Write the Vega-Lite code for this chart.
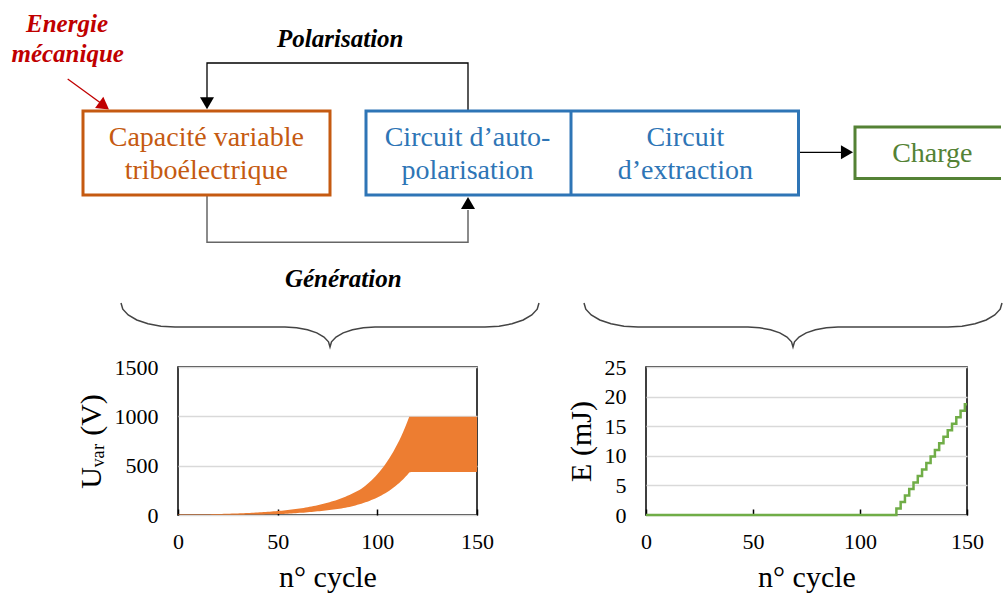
{
  "$schema": "https://vega.github.io/schema/vega-lite/v6.json",
  "padding": 0,
  "autosize": {"type": "pad"},
  "background": "white",
  "spacing": 5,
  "datasets": {
    "cyc": [
      {"n":0,"lo":0.8,"hi":4.2,"e":0},{"n":1,"lo":0.9,"hi":4.4,"e":0},{"n":2,"lo":0.9,"hi":4.6,"e":0},{"n":3,"lo":1.0,"hi":4.9,"e":0},{"n":4,"lo":1.0,"hi":5.1,"e":0},
      {"n":5,"lo":1.1,"hi":5.3,"e":0},{"n":6,"lo":1.1,"hi":5.6,"e":0},{"n":7,"lo":1.2,"hi":5.8,"e":0},{"n":8,"lo":1.2,"hi":6.1,"e":0},{"n":9,"lo":1.3,"hi":6.4,"e":0},
      {"n":10,"lo":1.3,"hi":6.7,"e":0},{"n":11,"lo":1.4,"hi":7.0,"e":0},{"n":12,"lo":1.5,"hi":7.3,"e":0},{"n":13,"lo":1.5,"hi":7.6,"e":0},{"n":14,"lo":1.6,"hi":8.0,"e":0},
      {"n":15,"lo":1.7,"hi":8.3,"e":0},{"n":16,"lo":1.7,"hi":8.7,"e":0},{"n":17,"lo":1.8,"hi":9.1,"e":0},{"n":18,"lo":1.9,"hi":9.5,"e":0},{"n":19,"lo":2.0,"hi":10.0,"e":0},
      {"n":20,"lo":2.1,"hi":10.4,"e":0},{"n":21,"lo":2.2,"hi":10.9,"e":0},{"n":22,"lo":2.3,"hi":11.4,"e":0},{"n":23,"lo":2.4,"hi":11.9,"e":0},{"n":24,"lo":2.5,"hi":12.5,"e":0},
      {"n":25,"lo":2.6,"hi":13.1,"e":0},{"n":26,"lo":2.7,"hi":13.7,"e":0},{"n":27,"lo":2.9,"hi":14.3,"e":0},{"n":28,"lo":3.0,"hi":14.9,"e":0},{"n":29,"lo":3.1,"hi":15.6,"e":0},
      {"n":30,"lo":3.3,"hi":16.4,"e":0},{"n":31,"lo":3.4,"hi":17.1,"e":0},{"n":32,"lo":3.6,"hi":17.9,"e":0},{"n":33,"lo":3.7,"hi":18.7,"e":0},{"n":34,"lo":3.9,"hi":19.6,"e":0},
      {"n":35,"lo":4.1,"hi":20.5,"e":0},{"n":36,"lo":4.3,"hi":21.4,"e":0},{"n":37,"lo":4.5,"hi":22.4,"e":0},{"n":38,"lo":4.7,"hi":23.4,"e":0},{"n":39,"lo":4.9,"hi":24.5,"e":0},
      {"n":40,"lo":5.1,"hi":25.6,"e":0},{"n":41,"lo":5.4,"hi":26.8,"e":0},{"n":42,"lo":5.8,"hi":28.1,"e":0},{"n":43,"lo":6.1,"hi":29.4,"e":0},{"n":44,"lo":6.4,"hi":30.7,"e":0},
      {"n":45,"lo":6.8,"hi":32.1,"e":0},{"n":46,"lo":7.2,"hi":33.6,"e":0},{"n":47,"lo":7.6,"hi":35.1,"e":0},{"n":48,"lo":8.1,"hi":36.8,"e":0},{"n":49,"lo":8.6,"hi":38.4,"e":0},
      {"n":50,"lo":9.0,"hi":40.2,"e":0},{"n":51,"lo":9.6,"hi":42.1,"e":0},{"n":52,"lo":10.1,"hi":44.0,"e":0},{"n":53,"lo":11.1,"hi":46.0,"e":0},{"n":54,"lo":12.2,"hi":48.1,"e":0},
      {"n":55,"lo":13.3,"hi":50.4,"e":0},{"n":56,"lo":14.5,"hi":52.7,"e":0},{"n":57,"lo":15.8,"hi":55.1,"e":0},{"n":58,"lo":17.1,"hi":57.6,"e":0},{"n":59,"lo":18.6,"hi":60.3,"e":0},
      {"n":60,"lo":20,"hi":63,"e":0},{"n":61,"lo":22,"hi":66,"e":0},{"n":62,"lo":23,"hi":69,"e":0},{"n":63,"lo":24,"hi":72,"e":0},{"n":64,"lo":26,"hi":76,"e":0},
      {"n":65,"lo":28,"hi":79,"e":0},{"n":66,"lo":30,"hi":83,"e":0},{"n":67,"lo":31,"hi":86,"e":0},{"n":68,"lo":33,"hi":90,"e":0},{"n":69,"lo":35,"hi":95,"e":0},
      {"n":70,"lo":37,"hi":99,"e":0},{"n":71,"lo":39,"hi":103,"e":0},{"n":72,"lo":41,"hi":108,"e":0},{"n":73,"lo":43,"hi":113,"e":0},{"n":74,"lo":45,"hi":118,"e":0},
      {"n":75,"lo":48,"hi":124,"e":0},{"n":76,"lo":50,"hi":130,"e":0},{"n":77,"lo":53,"hi":136,"e":0},{"n":78,"lo":55,"hi":142,"e":0},{"n":79,"lo":58,"hi":148,"e":0},
      {"n":80,"lo":61,"hi":155,"e":0},{"n":81,"lo":64,"hi":162,"e":0},{"n":82,"lo":67,"hi":170,"e":0},{"n":83,"lo":71,"hi":178,"e":0},{"n":84,"lo":74,"hi":186,"e":0},
      {"n":85,"lo":78,"hi":194,"e":0},{"n":86,"lo":82,"hi":203,"e":0},{"n":87,"lo":87,"hi":213,"e":0},{"n":88,"lo":92,"hi":222,"e":0},{"n":89,"lo":97,"hi":233,"e":0},
      {"n":90,"lo":103,"hi":243,"e":0},{"n":91,"lo":108,"hi":254,"e":0},{"n":92,"lo":114,"hi":266,"e":0},{"n":93,"lo":121,"hi":281,"e":0},{"n":94,"lo":128,"hi":297,"e":0},
      {"n":95,"lo":135,"hi":314,"e":0},{"n":96,"lo":143,"hi":332,"e":0},{"n":97,"lo":151,"hi":350,"e":0},{"n":98,"lo":159,"hi":370,"e":0},{"n":99,"lo":168,"hi":391,"e":0},
      {"n":100,"lo":178,"hi":413,"e":0},{"n":101,"lo":188,"hi":436,"e":0},{"n":102,"lo":198,"hi":461,"e":0},{"n":103,"lo":210,"hi":487,"e":0},{"n":104,"lo":221,"hi":515,"e":0},
      {"n":105,"lo":234,"hi":544,"e":0},{"n":106,"lo":247,"hi":575,"e":0},{"n":107,"lo":261,"hi":607,"e":0},{"n":108,"lo":276,"hi":641,"e":0},{"n":109,"lo":291,"hi":678,"e":0},
      {"n":110,"lo":308,"hi":716,"e":0},{"n":111,"lo":325,"hi":756,"e":0},{"n":112,"lo":344,"hi":799,"e":0},{"n":113,"lo":363,"hi":844,"e":0},{"n":114,"lo":384,"hi":892,"e":0},
      {"n":115,"lo":405,"hi":942,"e":0},{"n":116,"lo":430,"hi":995,"e":0},{"n":117,"lo":435,"hi":995,"e":1.1},{"n":118,"lo":435,"hi":995,"e":1.1},{"n":119,"lo":435,"hi":995,"e":2.2},
      {"n":120,"lo":435,"hi":995,"e":2.2},{"n":121,"lo":435,"hi":995,"e":3.3},{"n":122,"lo":435,"hi":995,"e":3.3},{"n":123,"lo":435,"hi":995,"e":4.4},{"n":124,"lo":435,"hi":995,"e":4.4},
      {"n":125,"lo":435,"hi":995,"e":5.5},{"n":126,"lo":435,"hi":995,"e":5.5},{"n":127,"lo":435,"hi":995,"e":6.6},{"n":128,"lo":435,"hi":995,"e":6.6},{"n":129,"lo":435,"hi":995,"e":7.7},
      {"n":130,"lo":435,"hi":995,"e":7.7},{"n":131,"lo":435,"hi":995,"e":8.8},{"n":132,"lo":435,"hi":995,"e":8.8},{"n":133,"lo":435,"hi":995,"e":9.9},{"n":134,"lo":435,"hi":995,"e":9.9},
      {"n":135,"lo":435,"hi":995,"e":11.0},{"n":136,"lo":435,"hi":995,"e":11.0},{"n":137,"lo":435,"hi":995,"e":12.1},{"n":138,"lo":435,"hi":995,"e":12.1},{"n":139,"lo":435,"hi":995,"e":13.2},
      {"n":140,"lo":435,"hi":995,"e":13.2},{"n":141,"lo":435,"hi":995,"e":14.3},{"n":142,"lo":435,"hi":995,"e":14.3},{"n":143,"lo":435,"hi":995,"e":15.4},{"n":144,"lo":435,"hi":995,"e":15.4},
      {"n":145,"lo":435,"hi":995,"e":16.5},{"n":146,"lo":435,"hi":995,"e":16.5},{"n":147,"lo":435,"hi":995,"e":17.6},{"n":148,"lo":435,"hi":995,"e":17.6},{"n":149,"lo":435,"hi":995,"e":18.7},
      {"n":150,"lo":435,"hi":995,"e":18.7}
    ]
  },
  "vconcat": [
    {
      "width": 825,
      "height": 350,
      "view": {"stroke": null},
      "encoding": {
        "x": {"field": "x", "type": "quantitative", "scale": {"domain": [178, 1003], "nice": false, "zero": false}, "axis": null},
        "y": {"field": "y", "type": "quantitative", "scale": {"domain": [0, 350], "nice": false, "zero": false, "reverse": true}, "axis": null}
      },
      "layer": [
        {
          "data": {"values": [{"x": 0, "x2": 1003, "y": 0, "y2": 350}]},
          "mark": {"type": "rect", "fill": "white"},
          "encoding": {"x2": {"field": "x2"}, "y2": {"field": "y2"}}
        },
        {
          "data": {"values": [
            {"p": "pol", "o": 1, "x": 468, "y": 110}, {"p": "pol", "o": 2, "x": 468, "y": 63}, {"p": "pol", "o": 3, "x": 207, "y": 63}, {"p": "pol", "o": 4, "x": 207, "y": 98},
            {"p": "chg", "o": 1, "x": 800, "y": 152.3}, {"p": "chg", "o": 2, "x": 842, "y": 152.3}
          ]},
          "mark": {"type": "line", "color": "black", "strokeWidth": 1.3},
          "encoding": {"detail": {"field": "p"}, "order": {"field": "o"}}
        },
        {
          "data": {"values": [
            {"p": "gen", "o": 1, "x": 207, "y": 195}, {"p": "gen", "o": 2, "x": 207, "y": 242.3}, {"p": "gen", "o": 3, "x": 468, "y": 242.3}, {"p": "gen", "o": 4, "x": 468, "y": 210}
          ]},
          "mark": {"type": "line", "color": "#666666", "strokeWidth": 1.5},
          "encoding": {"detail": {"field": "p"}, "order": {"field": "o"}}
        },
        {
          "data": {"values": [
            {"x": 207, "y": 103.3, "d": "down"}, {"x": 468, "y": 203, "d": "up"}, {"x": 847, "y": 152.3, "d": "right"}
          ]},
          "mark": {"type": "point", "filled": true, "color": "black", "opacity": 1, "size": 196},
          "encoding": {"shape": {"field": "d", "type": "nominal", "scale": {"domain": ["down", "up", "right"], "range": ["triangle-down", "triangle-up", "triangle-right"]}, "legend": null}}
        },
        {
          "data": {"values": [{"o": 1, "x": 67.7, "y": 79}, {"o": 2, "x": 101, "y": 103.2}]},
          "mark": {"type": "line", "color": "#C00000", "strokeWidth": 1.3},
          "encoding": {"order": {"field": "o"}}
        },
        {
          "data": {"values": [{"x": 104.1, "y": 105.9}]},
          "mark": {"type": "point", "shape": "triangle-right", "angle": 36, "filled": true, "color": "#C00000", "opacity": 1, "size": 196},
          "encoding": {}
        },
        {
          "data": {"values": [
            {"b": "gen", "x": 121, "y": 303}, {"b": "gen", "x": 122.8, "y": 309.2}, {"b": "gen", "x": 128.2, "y": 315}, {"b": "gen", "x": 136.8, "y": 320}, {"b": "gen", "x": 148, "y": 323.8}, {"b": "gen", "x": 161, "y": 326.2}, {"b": "gen", "x": 175, "y": 327},
            {"b": "gen", "x": 285, "y": 327}, {"b": "gen", "x": 296.6, "y": 327.7}, {"b": "gen", "x": 307.5, "y": 329.7}, {"b": "gen", "x": 316.8, "y": 332.9}, {"b": "gen", "x": 324, "y": 337}, {"b": "gen", "x": 328.5, "y": 341.8}, {"b": "gen", "x": 330, "y": 347},
            {"b": "gen", "x": 331.5, "y": 341.8}, {"b": "gen", "x": 336, "y": 337}, {"b": "gen", "x": 343.2, "y": 332.9}, {"b": "gen", "x": 352.5, "y": 329.7}, {"b": "gen", "x": 363.4, "y": 327.7}, {"b": "gen", "x": 375, "y": 327},
            {"b": "gen", "x": 485, "y": 327}, {"b": "gen", "x": 499, "y": 326.2}, {"b": "gen", "x": 512, "y": 323.8}, {"b": "gen", "x": 523.2, "y": 320}, {"b": "gen", "x": 531.8, "y": 315}, {"b": "gen", "x": 537.2, "y": 309.2}, {"b": "gen", "x": 539, "y": 303},
            {"b": "ext", "x": 584, "y": 303}, {"b": "ext", "x": 585.8, "y": 309.2}, {"b": "ext", "x": 591.2, "y": 315}, {"b": "ext", "x": 599.8, "y": 320}, {"b": "ext", "x": 611, "y": 323.8}, {"b": "ext", "x": 624, "y": 326.2}, {"b": "ext", "x": 638, "y": 327},
            {"b": "ext", "x": 748, "y": 327}, {"b": "ext", "x": 759.6, "y": 327.7}, {"b": "ext", "x": 770.5, "y": 329.7}, {"b": "ext", "x": 779.8, "y": 332.9}, {"b": "ext", "x": 787, "y": 337}, {"b": "ext", "x": 791.5, "y": 341.8}, {"b": "ext", "x": 793, "y": 347},
            {"b": "ext", "x": 794.5, "y": 341.8}, {"b": "ext", "x": 799, "y": 337}, {"b": "ext", "x": 806.2, "y": 332.9}, {"b": "ext", "x": 815.5, "y": 329.7}, {"b": "ext", "x": 826.4, "y": 327.7}, {"b": "ext", "x": 838, "y": 327},
            {"b": "ext", "x": 948, "y": 327}, {"b": "ext", "x": 962, "y": 326.2}, {"b": "ext", "x": 975, "y": 323.8}, {"b": "ext", "x": 986.2, "y": 320}, {"b": "ext", "x": 994.8, "y": 315}, {"b": "ext", "x": 1000.2, "y": 309.2}, {"b": "ext", "x": 1002, "y": 303}
          ]},
          "mark": {"type": "line", "color": "#444444", "strokeWidth": 1.5},
          "encoding": {"detail": {"field": "b"}}
        },
        {
          "data": {"values": [
            {"g": "cap", "x": 83, "x2": 330, "y": 111, "y2": 195},
            {"g": "circ", "x": 366, "x2": 798.5, "y": 111, "y2": 195}
          ]},
          "mark": {"type": "rect", "fill": "white", "strokeWidth": 3},
          "encoding": {
            "x2": {"field": "x2"}, "y2": {"field": "y2"},
            "stroke": {"field": "g", "type": "nominal", "scale": {"domain": ["cap", "circ", "load"], "range": ["#C55A11", "#2E75B6", "#548235"]}, "legend": null}
          }
        },
        {
          "data": {"values": [
            {"o": 1, "x": 1001, "y": 127}, {"o": 2, "x": 855, "y": 127}, {"o": 3, "x": 855, "y": 178.5}, {"o": 4, "x": 1001, "y": 178.5}
          ]},
          "mark": {"type": "line", "color": "#548235", "strokeWidth": 3, "strokeCap": "butt", "strokeJoin": "miter"},
          "encoding": {"order": {"field": "o"}}
        },
        {
          "data": {"values": [{"x": 571, "y": 111, "y2": 195}]},
          "mark": {"type": "rule", "color": "#2E75B6", "strokeWidth": 3},
          "encoding": {"y2": {"field": "y2"}}
        },
        {
          "data": {"values": [
            {"g": "cap", "t": "Capacité variable", "x": 206.3, "y": 146},
            {"g": "cap", "t": "triboélectrique", "x": 206.3, "y": 179},
            {"g": "circ", "t": "Circuit d’auto-", "x": 467.5, "y": 146},
            {"g": "circ", "t": "polarisation", "x": 467.5, "y": 179},
            {"g": "circ", "t": "Circuit", "x": 685.3, "y": 146},
            {"g": "circ", "t": "d’extraction", "x": 685.3, "y": 179},
            {"g": "load", "t": "Charge", "x": 932.3, "y": 162}
          ]},
          "mark": {"type": "text", "font": "Liberation Serif, DejaVu Serif, serif", "fontSize": 28, "align": "center", "baseline": "alphabetic"},
          "encoding": {
            "text": {"field": "t"},
            "color": {"field": "g", "type": "nominal", "scale": {"domain": ["cap", "circ", "load", "energy", "flow"], "range": ["#C55A11", "#2E75B6", "#548235", "#C00000", "#000000"]}, "legend": null}
          }
        },
        {
          "data": {"values": [
            {"g": "energy", "t": "Energie", "x": 67, "y": 31.7},
            {"g": "energy", "t": "mécanique", "x": 67.7, "y": 61.7},
            {"g": "flow", "t": "Polarisation", "x": 340.3, "y": 46.7},
            {"g": "flow", "t": "Génération", "x": 343.3, "y": 286.7}
          ]},
          "mark": {"type": "text", "font": "Liberation Serif, DejaVu Serif, serif", "fontSize": 25, "fontStyle": "italic", "fontWeight": "bold", "align": "center", "baseline": "alphabetic"},
          "encoding": {
            "text": {"field": "t"},
            "color": {"field": "g", "type": "nominal", "scale": {"domain": ["cap", "circ", "load", "energy", "flow"], "range": ["#C55A11", "#2E75B6", "#548235", "#C00000", "#000000"]}, "legend": null}
          }
        }
      ]
    },
    {
      "spacing": 70,
      "hconcat": [
        {
          "width": 299,
          "height": 148,
          "view": {"stroke": "black", "strokeWidth": 1.5},
          "data": {"name": "cyc"},
          "mark": {"type": "area", "color": "#ED7D31", "opacity": 1},
          "encoding": {
            "x": {"field": "n", "type": "quantitative", "scale": {"domain": [0, 150], "nice": false, "zero": false}, "axis": {"values": [0, 50, 100, 150], "format": "d", "title": "n° cycle"}},
            "y": {"field": "hi", "type": "quantitative", "scale": {"domain": [0, 1500], "nice": false}, "axis": {"values": [0, 500, 1000, 1500], "format": "d", "title": "U\u1d65\u2090\u1d63 (V)"}},
            "y2": {"field": "lo"}
          }
        },
        {
          "width": 321,
          "height": 148,
          "view": {"stroke": "black", "strokeWidth": 1.5},
          "data": {"name": "cyc"},
          "mark": {"type": "line", "color": "#70AD47", "strokeWidth": 2.5, "interpolate": "step-after"},
          "encoding": {
            "x": {"field": "n", "type": "quantitative", "scale": {"domain": [0, 150], "nice": false, "zero": false}, "axis": {"values": [0, 50, 100, 150], "format": "d", "title": "n° cycle"}},
            "y": {"field": "e", "type": "quantitative", "scale": {"domain": [0, 25], "nice": false}, "axis": {"values": [0, 5, 10, 15, 20, 25], "format": "d", "title": "E (mJ)"}}
          }
        }
      ]
    }
  ],
  "config": {
    "axis": {"labelFont": "Liberation Serif, DejaVu Serif, serif", "labelFontSize": 22, "labelColor": "black", "titleFont": "Liberation Serif, DejaVu Serif, serif", "titleFontSize": 30, "titleFontWeight": "normal", "titleColor": "black", "domain": false},
    "axisX": {"grid": false, "ticks": true, "tickSize": -6, "tickColor": "black", "tickWidth": 1.5, "labelPadding": 22, "titlePadding": 10, "labelFlush": false},
    "axisY": {"grid": true, "gridColor": "#D9D9D9", "gridWidth": 1.5, "ticks": false, "labelPadding": 20, "titlePadding": 8}
  }
}
